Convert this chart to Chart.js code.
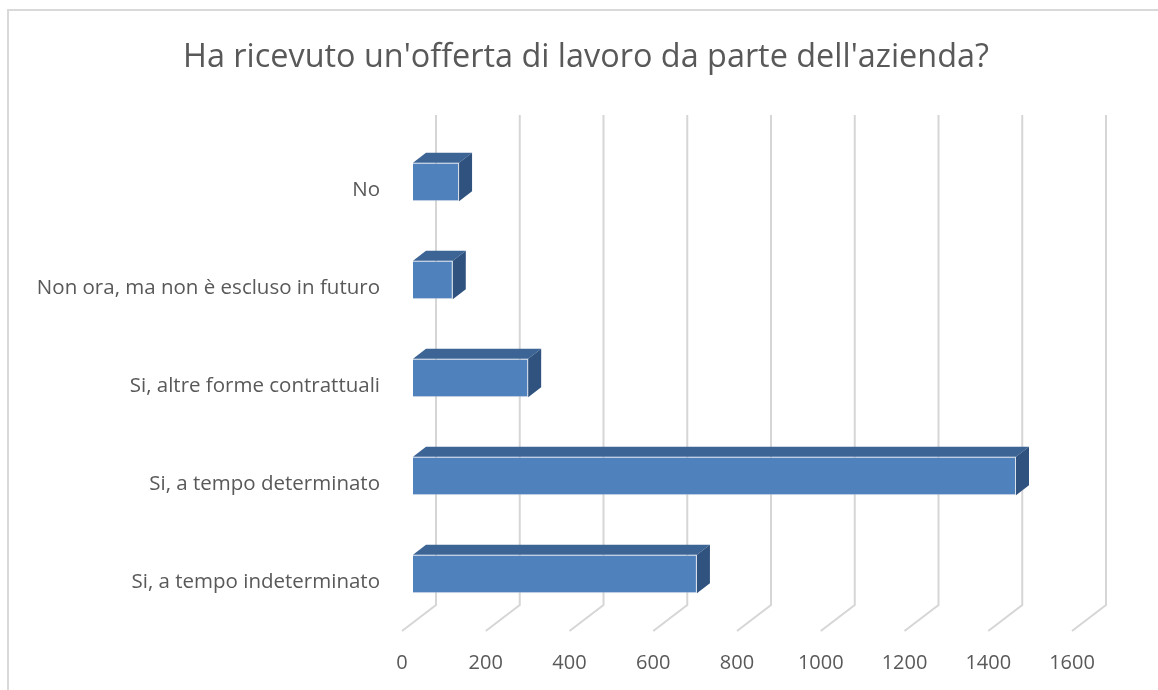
<!DOCTYPE html>
<html>
<head>
<meta charset="utf-8">
<script src="https://cdn.jsdelivr.net/npm/chart.js@4"></script>
<style>
  body { margin: 0; background: #fff; }
  canvas { display: block; }
</style>
</head>
<body>
<canvas id="chart" width="1158" height="690"></canvas>
<script>
const chartTitle = "Ha ricevuto un'offerta di lavoro da parte dell'azienda?";
const categories = [
  "No",
  "Non ora, ma non è escluso in futuro",
  "Si, altre forme contrattuali",
  "Si, a tempo determinato",
  "Si, a tempo indeterminato",
];
const counts = [110, 95, 275, 1440, 678];
const axisMin = 0;
const axisMax = 1600;
const axisStep = 200;

// depth of the 3d box (back wall offset) and of the bars inside it
const DEPTH = { x: 34, y: -26 };
const BAR_SHIFT = { x: 11, y: -8 };
const BAR_DEPTH = { x: 13, y: -10 };

Chart.defaults.font.family = '"Open Sans", sans-serif';
Chart.defaults.color = "#595959";

// outer chart border and the title, centred on the whole canvas
const frame = {
  id: "frame",
  beforeDraw(chart) {
    const ctx = chart.ctx;
    ctx.save();
    ctx.strokeStyle = "#d9d9d9";
    ctx.lineWidth = 2;
    ctx.strokeRect(8, 10, 3000, 3000);
    ctx.fillStyle = "#595959";
    ctx.font = '32.4px "Open Sans", sans-serif';
    ctx.textAlign = "center";
    ctx.textBaseline = "middle";
    ctx.fillText(chartTitle, 586, 58);
    ctx.restore();
  },
};

const walls = {
  id: "walls",
  beforeDatasetsDraw(chart) {
    const { ctx, chartArea, scales } = chart;
    const x = scales.x;
    ctx.save();
    ctx.strokeStyle = "#d6d6d6";
    ctx.lineWidth = 2;
    for (let v = axisMin; v <= axisMax; v += axisStep) {
      const px = x.getPixelForValue(v);
      ctx.beginPath();
      ctx.moveTo(px + DEPTH.x, chartArea.top + DEPTH.y);
      ctx.lineTo(px + DEPTH.x, chartArea.bottom + DEPTH.y);
      ctx.lineTo(px, chartArea.bottom);
      ctx.stroke();
    }
    ctx.restore();

    // bars sit half way into the box; draw their hidden faces first
    ctx.save();
    ctx.translate(BAR_SHIFT.x, BAR_SHIFT.y);
    const meta = chart.getDatasetMeta(0);
    meta.data.forEach((bar) => {
      const p = bar.getProps(["x", "y", "base", "height"], true);
      const x0 = p.base, x1 = p.x;
      const y0 = p.y - p.height / 2, y1 = p.y + p.height / 2;
      // top face
      ctx.fillStyle = "#3c6494";
      ctx.beginPath();
      ctx.moveTo(x0, y0);
      ctx.lineTo(x1, y0);
      ctx.lineTo(x1 + BAR_DEPTH.x, y0 + BAR_DEPTH.y);
      ctx.lineTo(x0 + BAR_DEPTH.x, y0 + BAR_DEPTH.y);
      ctx.closePath();
      ctx.fill();
      // side face
      ctx.fillStyle = "#30527e";
      ctx.beginPath();
      ctx.moveTo(x1, y0);
      ctx.lineTo(x1 + BAR_DEPTH.x, y0 + BAR_DEPTH.y);
      ctx.lineTo(x1 + BAR_DEPTH.x, y1 + BAR_DEPTH.y);
      ctx.lineTo(x1, y1);
      ctx.closePath();
      ctx.fill();
    });
  },
  afterDatasetsDraw(chart) {
    chart.ctx.restore();
  },
};

new Chart(document.getElementById("chart"), {
  type: "bar",
  data: {
    labels: categories,
    datasets: [
      {
        data: counts,
        backgroundColor: "#4f81bd",
        borderColor: "rgba(190,200,215,0.55)",
        borderWidth: 1,
        barPercentage: 0.395,
        categoryPercentage: 1,
        clip: false,
      },
    ],
  },
  options: {
    indexAxis: "y",
    responsive: false,
    animation: false,
    layout: { padding: { left: 0, right: 86, top: 141, bottom: 0 } },
    plugins: {
      legend: { display: false },
      tooltip: { enabled: false },
      title: { display: false },
    },
    scales: {
      x: {
        min: axisMin,
        max: axisMax,
        grid: { display: false },
        border: { display: false },
        ticks: {
          stepSize: axisStep,
          padding: 12,
          font: { size: 20 },
          callback: (v) => String(v),
        },
        afterFit(scale) { scale.height = 59; },
      },
      y: {
        grid: { display: false },
        border: { display: false },
        ticks: { padding: 14, font: { size: 20.5 } },
        afterFit(scale) { scale.width = 402; },
      },
    },
  },
  plugins: [frame, walls],
});
</script>
</body>
</html>
